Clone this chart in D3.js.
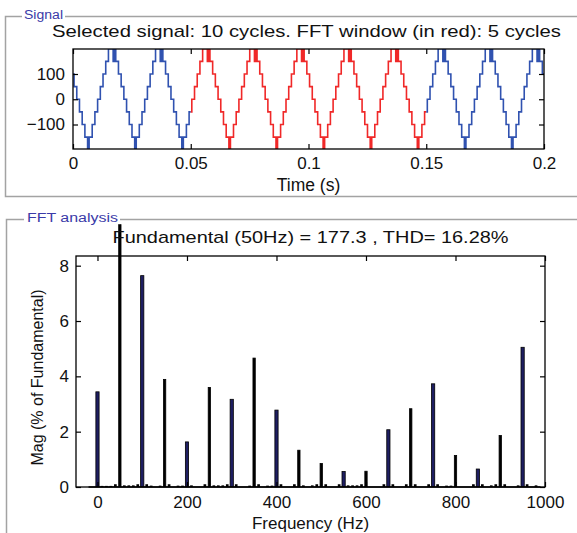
<!DOCTYPE html>
<html>
<head>
<meta charset="utf-8">
<script src="https://cdn.jsdelivr.net/npm/d3@7"></script>
<style>
  body { margin: 0; background: #fff; }
  svg { display: block; }
  text { font-family: "Liberation Sans", Arial, sans-serif; fill: #111; }
</style>
</head>
<body>
<div id="chart"></div>
<script>
// one period of the staircase signal (ms from the negative peak, level)
const cycleTimesMs = [0, 0.1, 0.25, 1.55, 2.7, 3.85, 5.0, 6.15, 7.3, 8.45, 10.45, 10.6, 10.75, 10.9, 11.55, 12.7, 13.85, 15.0, 16.15, 17.3, 18.45, 19.6, 19.75, 19.85];
const cycleLevels  = [-150, -200, -150, -100, -50, 0, 50, 100, 150, 200, 150, 200, 150, 200, 150, 100, 50, 0, -50, -100, -150, -200, -150, -200];
const periodMs = 20;
const firstTroughMs = 6.6;
const nCycles = 10;
const fftWindow = [0.05, 0.15];
const timeTicks = [0, 0.05, 0.1, 0.15, 0.2];
const signalTicks = [-100, 0, 100];

// FFT harmonics (Hz, % of fundamental)
const harmFreq = [0, 50, 100, 150, 200, 250, 300, 350, 400, 450, 500, 550, 600, 650, 700, 750, 800, 850, 900, 950];
const harmMag  = [3.44, 100, 7.64, 3.89, 1.63, 3.6, 3.17, 4.66, 2.78, 1.33, 0.85, 0.56, 0.57, 2.07, 2.83, 3.73, 1.14, 0.65, 1.86, 5.05];
const harmKind = ["n", "k", "n", "k", "n", "k", "n", "k", "n", "k", "k", "n", "k", "n", "k", "n", "k", "n", "k", "n"];
// small in-between bins near the base line
const minorFreq = [10, 20, 30, 40, 60, 70, 80, 90, 110, 120, 140, 160, 180, 190, 210, 240, 260, 270, 280, 290, 310, 340, 360, 380, 390, 410, 440, 460, 480, 490, 510, 540, 560, 570, 580, 590, 640, 660, 690, 710, 740, 760, 780, 790, 840, 860, 880, 890, 910, 940, 960, 980];
const minorMag  = [0.04, 0.04, 0.04, 0.1, 0.06, 0.06, 0.06, 0.1, 0.1, 0.05, 0.05, 0.1, 0.05, 0.05, 0.06, 0.1, 0.06, 0.06, 0.06, 0.1, 0.1, 0.05, 0.1, 0.05, 0.05, 0.1, 0.1, 0.06, 0.06, 0.1, 0.1, 0.1, 0.06, 0.06, 0.06, 0.1, 0.1, 0.1, 0.1, 0.1, 0.1, 0.1, 0.05, 0.05, 0.1, 0.1, 0.06, 0.1, 0.1, 0.06, 0.1, 0.06];
const freqTicks = [0, 200, 400, 600, 800, 1000];
const magTicks = [0, 2, 4, 6, 8];

const W = 577, H = 533;
const svg = d3.select("#chart").append("svg").attr("width", W).attr("height", H);

// ---------- group boxes ----------
const frame = "#a3a3a3";
svg.append("path")
    .attr("d", "M22,16.5H5.5V196.5H577 M65,16.5H577")
    .attr("fill", "none").attr("stroke", frame).attr("stroke-width", 1.5);
svg.append("text").attr("x", 24).attr("y", 19).text("Signal")
    .style("font-size", "12.5px").style("fill", "#3a3aa8")
    .attr("textLength", 39).attr("lengthAdjust", "spacingAndGlyphs");

svg.append("path")
    .attr("d", "M24,219.5H6.5V533 M120,219.5H577")
    .attr("fill", "none").attr("stroke", frame).attr("stroke-width", 1.5);
svg.append("text").attr("x", 27).attr("y", 221.5).text("FFT analysis")
    .style("font-size", "12px").style("fill", "#3a3aa8")
    .attr("textLength", 91).attr("lengthAdjust", "spacingAndGlyphs");

// ---------- signal plot ----------
const m1 = { left: 73, right: 544, top: 49, bottom: 149 };
const x1 = d3.scaleLinear().domain([0, 0.2]).range([m1.left, m1.right]);
const y1 = d3.scaleLinear().domain([-197, 199]).range([m1.bottom, m1.top]);

// repeat the measured period across the record
const pts = [];
for (let k = -1; k <= nCycles; k++) {
    cycleTimesMs.forEach((t, i) => {
        pts.push({ t: (firstTroughMs + (k - 1) * periodMs + t) / 1000, v: cycleLevels[i] });
    });
}
pts.sort((a, b) => a.t - b.t);

function levelAt(t) {
    let v = pts[0].v;
    for (const p of pts) { if (p.t <= t) v = p.v; else break; }
    return v;
}
function segment(t0, t1) {
    const s = [{ t: t0, v: levelAt(t0) }];
    pts.forEach(p => { if (p.t > t0 && p.t < t1) s.push(p); });
    s.push({ t: t1, v: levelAt(t1 - 1e-9) });
    return s;
}

const clip1 = svg.append("clipPath").attr("id", "clip1");
clip1.append("rect").attr("x", m1.left).attr("y", m1.top)
    .attr("width", m1.right - m1.left).attr("height", m1.bottom - m1.top);

const line = d3.line().x(d => x1(d.t)).y(d => y1(d.v)).curve(d3.curveStepAfter);
const parts = [
    { d: segment(0, fftWindow[0]), c: "#3052b0" },
    { d: segment(fftWindow[0], fftWindow[1]), c: "#f02828" },
    { d: segment(fftWindow[1], 0.2), c: "#3052b0" }
];
svg.append("g").attr("clip-path", "url(#clip1)")
    .selectAll("path").data(parts).enter().append("path")
    .attr("d", d => line(d.d))
    .attr("fill", "none")
    .attr("stroke", d => d.c)
    .attr("stroke-width", 1.6);

svg.append("rect").attr("x", m1.left).attr("y", m1.top)
    .attr("width", m1.right - m1.left).attr("height", m1.bottom - m1.top)
    .attr("fill", "none").attr("stroke", "#000").attr("stroke-width", 1.3);

function styleAxis(g) {
    g.select(".domain").remove();
    g.selectAll(".tick line").attr("stroke", "#000").attr("stroke-width", 1.2);
    g.selectAll(".tick text").style("font-size", "17px").style("fill", "#111");
}

svg.append("g").attr("transform", `translate(0,${m1.bottom})`)
    .call(d3.axisBottom(x1).tickValues(timeTicks).tickFormat(d3.format("")).tickSizeInner(-5).tickPadding(8))
    .call(styleAxis);
svg.append("g").attr("transform", `translate(0,${m1.top})`)
    .call(d3.axisTop(x1).tickValues(timeTicks).tickSizeInner(-5).tickFormat(""))
    .call(styleAxis);
svg.append("g").attr("transform", `translate(${m1.left},0)`)
    .call(d3.axisLeft(y1).tickValues(signalTicks).tickSizeInner(-5).tickPadding(8))
    .call(styleAxis);
svg.append("g").attr("transform", `translate(${m1.right},0)`)
    .call(d3.axisRight(y1).tickValues(signalTicks).tickSizeInner(-5).tickFormat(""))
    .call(styleAxis);

svg.append("text").attr("x", (m1.left + m1.right) / 2 - 2).attr("y", 37)
    .attr("text-anchor", "middle").style("font-size", "17px")
    .attr("textLength", 509).attr("lengthAdjust", "spacingAndGlyphs")
    .text("Selected signal: 10 cycles. FFT window (in red): 5 cycles");
svg.append("text").attr("x", (m1.left + m1.right) / 2).attr("y", 191)
    .attr("text-anchor", "middle").style("font-size", "17.5px")
    .text("Time (s)");

// ---------- FFT plot ----------
const m2 = { left: 76, right: 545, top: 256, bottom: 487 };
const x2 = d3.scaleLinear().domain([-48, 1000]).range([m2.left, m2.right]);
const y2 = d3.scaleLinear().domain([0, 8.35]).range([m2.bottom, m2.top]);
const barClipTop = 9.5; // fundamental bar sticks out above the axes up to here

const clip2 = svg.append("clipPath").attr("id", "clip2");
clip2.append("rect").attr("x", m2.left).attr("y", y2(barClipTop))
    .attr("width", m2.right - m2.left).attr("height", m2.bottom - y2(barClipTop));

const bars = svg.append("g").attr("clip-path", "url(#clip2)");

bars.selectAll(".minor").data(minorFreq).enter().append("rect")
    .attr("class", "minor")
    .attr("x", d => x2(d - 3))
    .attr("width", d => x2(d + 3) - x2(d - 3))
    .attr("y", (d, i) => y2(minorMag[i]))
    .attr("height", (d, i) => y2(0) - y2(minorMag[i]))
    .attr("fill", "#000");

const halfW = k => (k === "n" ? 3.6 : 2.6);
bars.selectAll(".harm").data(harmFreq).enter().append("rect")
    .attr("class", "harm")
    .attr("x", (d, i) => x2(d - halfW(harmKind[i])))
    .attr("width", (d, i) => x2(d + halfW(harmKind[i])) - x2(d - halfW(harmKind[i])))
    .attr("y", (d, i) => y2(harmMag[i]))
    .attr("height", (d, i) => y2(0) - y2(harmMag[i]))
    .attr("fill", (d, i) => harmKind[i] === "n" ? "#1e1e62" : "#000")
    .attr("stroke", "#000").attr("stroke-width", 0.8);

svg.append("line")
    .attr("x1", x2(-20)).attr("x2", x2(990))
    .attr("y1", y2(0)).attr("y2", y2(0))
    .attr("stroke", "#000").attr("stroke-width", 1.5);

svg.append("rect").attr("x", m2.left).attr("y", m2.top)
    .attr("width", m2.right - m2.left).attr("height", m2.bottom - m2.top)
    .attr("fill", "none").attr("stroke", "#000").attr("stroke-width", 1.3);

svg.append("g").attr("transform", `translate(0,${m2.bottom})`)
    .call(d3.axisBottom(x2).tickValues(freqTicks).tickFormat(d3.format("d")).tickSizeInner(-5).tickPadding(9))
    .call(styleAxis);
svg.append("g").attr("transform", `translate(0,${m2.top})`)
    .call(d3.axisTop(x2).tickValues(freqTicks).tickSizeInner(-5).tickFormat(""))
    .call(styleAxis);
svg.append("g").attr("transform", `translate(${m2.left},0)`)
    .call(d3.axisLeft(y2).tickValues(magTicks).tickSizeInner(-5).tickPadding(7))
    .call(styleAxis);
svg.append("g").attr("transform", `translate(${m2.right},0)`)
    .call(d3.axisRight(y2).tickValues(magTicks).tickSizeInner(-5).tickFormat(""))
    .call(styleAxis);

svg.append("text").attr("x", (m2.left + m2.right) / 2).attr("y", 243)
    .attr("text-anchor", "middle").style("font-size", "17px")
    .attr("textLength", 396).attr("lengthAdjust", "spacingAndGlyphs")
    .text("Fundamental (50Hz) = 177.3 , THD= 16.28%");
svg.append("text").attr("x", (m2.left + m2.right) / 2).attr("y", 529)
    .attr("text-anchor", "middle").style("font-size", "17px")
    .text("Frequency (Hz)");
svg.append("text")
    .attr("transform", `translate(43,${(m2.top + m2.bottom) / 2 + 6}) rotate(-90)`)
    .attr("text-anchor", "middle").style("font-size", "16px")
    .text("Mag (% of Fundamental)");
</script>
</body>
</html>
